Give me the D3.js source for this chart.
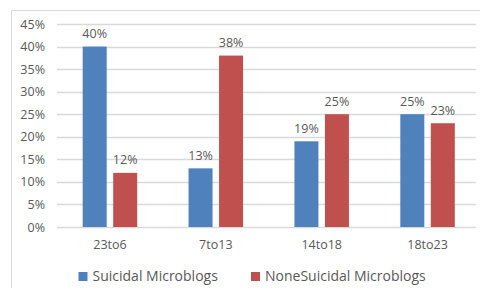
<!DOCTYPE html>
<html>
<head>
<meta charset="utf-8">
<script src="https://cdn.jsdelivr.net/npm/d3@7"></script>
<style>
  body { margin: 0; background: #fff; }
  svg text { font-family: "Open Sans", "Liberation Sans", sans-serif; fill: #595959; }
</style>
</head>
<body>
<div id="chart"></div>
<script>
// Dimensions
const width = 480;
const height = 288;

// Data
const categories = ['23to6', '7to13', '14to18', '18to23'];
const seriesNames = ['Suicidal Microblogs', 'NoneSuicidal Microblogs'];
const suicidal = [40, 13, 19, 25];
const noneSuicidal = [12, 38, 25, 23];
const yTicks = [0, 5, 10, 15, 20, 25, 30, 35, 40, 45];

const colours = ['#4f81bd', '#c0504d'];

const svg = d3.select('#chart').append('svg')
    .attr('width', width)
    .attr('height', height);

// Chart border (runs off the right and bottom of the picture)
svg.append('rect')
    .attr('x', 11.5)
    .attr('y', 10.5)
    .attr('width', 480)
    .attr('height', 300)
    .attr('fill', 'none')
    .attr('stroke', '#d9d9d9');

// Scales
const x = d3.scaleBand()
    .domain(categories)
    .range([57, 480.5]);

const y = d3.scaleLinear()
    .domain([0, 45])
    .range([227, 24]);

const barWidth = 24;
const barGap = 6.5;

// Gridlines
svg.append('g')
    .selectAll('line')
    .data(yTicks)
    .enter()
    .append('line')
    .attr('x1', 57)
    .attr('x2', 476)
    .attr('y1', d => Math.round(y(d)) + 0.5)
    .attr('y2', d => Math.round(y(d)) + 0.5)
    .attr('stroke', '#d9d9d9')
    .attr('stroke-width', 1.5);

// Y axis labels
const yAxis = d3.axisLeft(y)
    .tickValues(yTicks)
    .tickFormat(d => `${d}%`)
    .tickSize(0)
    .tickPadding(0);

svg.append('g')
    .attr('transform', 'translate(45,0)')
    .call(yAxis)
    .call(g => g.select('.domain').remove())
    .selectAll('text')
    .style('font-size', '12.5px')
    .attr('fill', '#595959');

// X axis labels
const xAxis = d3.axisBottom(x)
    .tickSize(0)
    .tickPadding(0);

svg.append('g')
    .attr('transform', 'translate(0,240)')
    .call(xAxis)
    .call(g => g.select('.domain').remove())
    .selectAll('text')
    .style('font-size', '12.5px')
    .attr('fill', '#595959');

// Bars
const series = [suicidal, noneSuicidal];

series.forEach((values, i) => {
    const offset = i === 0 ? -barGap / 2 - barWidth : barGap / 2;
    const g = svg.append('g');

    g.selectAll('rect')
        .data(values)
        .enter()
        .append('rect')
        .attr('x', (d, j) => x(categories[j]) + x.bandwidth() / 2 + offset)
        .attr('y', d => y(d))
        .attr('width', barWidth)
        .attr('height', d => y(0) - y(d))
        .attr('fill', colours[i]);

    g.selectAll('text')
        .data(values)
        .enter()
        .append('text')
        .attr('x', (d, j) => x(categories[j]) + x.bandwidth() / 2 + offset + barWidth / 2)
        .attr('y', d => y(d) - 8.5)
        .attr('text-anchor', 'middle')
        .style('font-size', '12.5px')
        .text(d => `${d}%`);
});

// Legend
const legendX = [78.5, 251];
const legend = svg.append('g');

seriesNames.forEach((name, i) => {
    legend.append('rect')
        .attr('x', legendX[i])
        .attr('y', 272)
        .attr('width', 9)
        .attr('height', 9)
        .attr('fill', colours[i]);

    legend.append('text')
        .attr('x', legendX[i] + 14)
        .attr('y', 281)
        .style('font-size', '14px')
        .text(name);
});
</script>
</body>
</html>
